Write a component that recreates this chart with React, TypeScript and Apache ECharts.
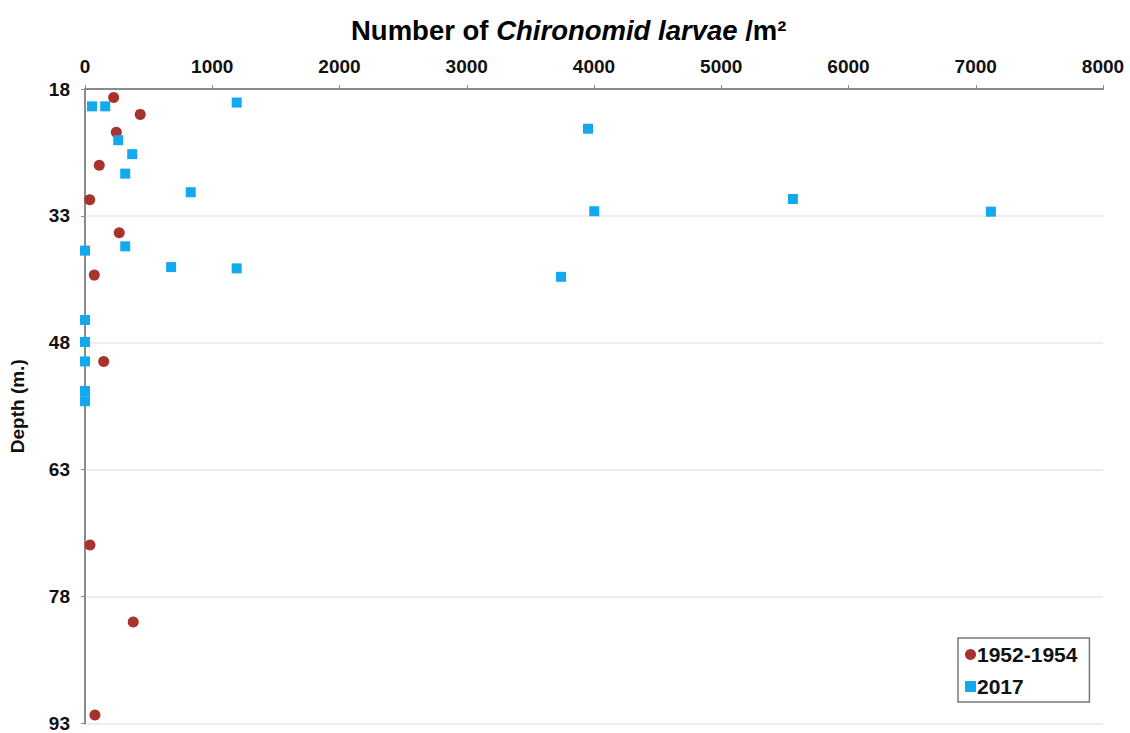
import React, { useEffect, useRef } from "react";
import * as echarts from "echarts";

const seriesNames = ["1952-1954", "2017"];
const oldCount = [225, 434, 246, 112, 37, 269, 73, 147, 39, 379, 78];
const oldDepth = [19.0, 21.0, 23.1, 27.0, 31.1, 35.0, 40.0, 50.2, 71.9, 81.0, 92.0];
const newCount = [55, 159, 1192, 261, 371, 316, 831, 3953, 4002, 5563, 7119, 316, 0, 677, 1192, 3741, 0, 0, 0, 0, 0];
const newDepth = [20.05, 20.05, 19.6, 24.05, 25.7, 28.0, 30.2, 22.7, 32.45, 31.0, 32.5, 36.6, 37.1, 39.05, 39.2, 40.2, 45.3, 47.9, 50.2, 53.7, 54.9];
const xTicks = { min: 0, max: 8000, interval: 1000 };
const yTicks = { min: 18, max: 93, interval: 15 };

const FONT = "'Liberation Sans', Arial, Helvetica, sans-serif";

export default function App() {
  const ref = useRef<HTMLDivElement>(null);
  useEffect(() => {
    if (!ref.current) return;
    const chart = echarts.init(ref.current, undefined, { renderer: "svg" });
    const pairs = (xs: number[], ys: number[]) => xs.map((x, i) => [x, ys[i]]);
    chart.setOption({
      animation: false,
      backgroundColor: "#ffffff",
      textStyle: { fontFamily: FONT },
      title: {
        left: 346,
        top: 11,
        text: "{b|Number of }{i|Chironomid larvae}{b| /m²}",
        textStyle: {
          rich: {
            b: { fontFamily: FONT, fontWeight: "bold", fontSize: 27.5, color: "#000" },
            i: { fontFamily: FONT, fontWeight: "bold", fontStyle: "italic", fontSize: 27.5, color: "#000" },
          },
        },
      },
      grid: { left: 85, right: 27, top: 89, bottom: 7, containLabel: false },
      xAxis: {
        type: "value",
        position: "top",
        min: xTicks.min,
        max: xTicks.max,
        interval: xTicks.interval,
        axisLine: { show: true, lineStyle: { color: "#8a8a8a", width: 2 } },
        axisTick: { show: true, inside: false, length: 4, lineStyle: { color: "#8a8a8a", width: 1 } },
        axisLabel: {
          fontFamily: FONT,
          fontWeight: "bold",
          fontSize: 19,
          color: "#111",
          margin: 13,
          formatter: (v: number) => String(v),
        },
        splitLine: { show: false },
      },
      yAxis: {
        type: "value",
        inverse: true,
        min: yTicks.min,
        max: yTicks.max,
        interval: yTicks.interval,
        name: "Depth (m.)",
        nameLocation: "middle",
        nameRotate: 90,
        nameGap: 58,
        nameTextStyle: { fontFamily: FONT, fontWeight: "bold", fontSize: 19, color: "#111" },
        axisLine: { show: true, lineStyle: { color: "#8a8a8a", width: 2 } },
        axisTick: { show: true, inside: false, length: 4, lineStyle: { color: "#8a8a8a", width: 1 } },
        axisLabel: {
          fontFamily: FONT,
          fontWeight: "bold",
          fontSize: 19,
          color: "#111",
          margin: 15,
          formatter: (v: number) => String(v),
        },
        splitLine: { show: true, lineStyle: { color: "#e8e8e8", width: 1.5 } },
      },
      legend: {
        orient: "vertical",
        left: 958,
        top: 638,
        padding: [6, 12, 5, 7],
        itemGap: 11,
        itemWidth: 11,
        itemHeight: 11,
        borderColor: "#777",
        borderWidth: 1.5,
        backgroundColor: "#fff",
        textStyle: { fontFamily: FONT, fontWeight: "bold", fontSize: 21, color: "#111", padding: [0, 0, 0, -4] },
        data: [
          { name: seriesNames[0], icon: "circle" },
          { name: seriesNames[1], icon: "rect" },
        ],
      },
      series: [
        {
          name: seriesNames[0],
          type: "scatter",
          symbol: "circle",
          symbolSize: 11,
          clip: false,
          itemStyle: { color: "#a8322d", opacity: 1 },
          data: pairs(oldCount, oldDepth),
          z: 3,
        },
        {
          name: seriesNames[1],
          type: "scatter",
          symbol: "rect",
          symbolSize: 10,
          clip: false,
          itemStyle: { color: "#12a9ee", opacity: 1 },
          data: pairs(newCount, newDepth),
          z: 4,
        },
      ],
    });
    return () => chart.dispose();
  }, []);
  return (
    <div
      ref={ref}
      style={{ position: "fixed", left: 0, top: 0, width: 1130, height: 733, background: "#fff" }}
    />
  );
}
